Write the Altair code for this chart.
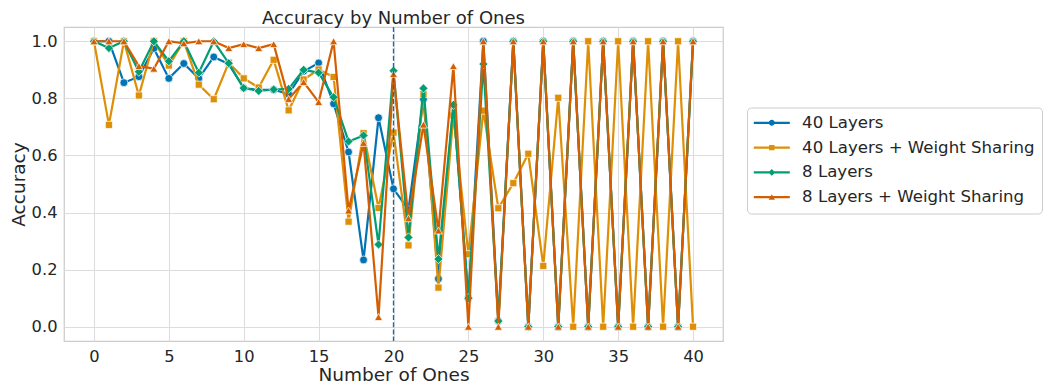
import altair as alt
import pandas as pd

# ---------------- data ----------------
x_vals = list(range(41))
series_names = ["40 Layers", "40 Layers + Weight Sharing", "8 Layers", "8 Layers + Weight Sharing"]

acc_40 = [1.0, 1.0, 0.855, 0.876, 0.975, 0.870, 0.922, 0.870, 0.945, 0.920,
          0.836, 0.830, 0.830, 0.815, 0.895, 0.924, 0.781, 0.612, 0.234, 0.732,
          0.483, 0.410, 0.798, 0.168, 0.777, 0.100, 1.0, 0.020, 1.0, 0.0,
          1.0, 0.0, 1.0, 0.0, 1.0, 0.0, 1.0, 0.0, 1.0, 0.0, 1.0]
acc_40_ws = [1.0, 0.707, 1.0, 0.810, 1.0, 0.915, 1.0, 0.848, 0.797, 0.925,
             0.870, 0.838, 0.935, 0.758, 0.866, 0.901, 0.875, 0.368, 0.678, 0.416,
             0.680, 0.285, 0.815, 0.137, 0.740, 0.254, 0.757, 0.415, 0.503, 0.606,
             0.213, 0.802, 0.0, 1.0, 0.0, 1.0, 0.0, 1.0, 0.0, 1.0, 0.0]
acc_8 = [1.0, 0.976, 1.0, 0.893, 1.0, 0.930, 1.0, 0.890, 1.0, 0.923,
         0.836, 0.826, 0.831, 0.833, 0.900, 0.890, 0.804, 0.649, 0.670, 0.288,
         0.897, 0.313, 0.835, 0.237, 0.777, 0.100, 0.920, 0.020, 1.0, 0.0,
         1.0, 0.0, 1.0, 0.0, 1.0, 0.0, 1.0, 0.0, 1.0, 0.0, 1.0]
acc_8_ws = [1.0, 1.0, 1.0, 0.913, 0.904, 1.0, 0.993, 1.0, 1.0, 0.976,
            0.990, 0.976, 0.990, 0.798, 0.857, 0.787, 1.0, 0.407, 0.644, 0.034,
            0.885, 0.380, 0.708, 0.337, 0.913, 0.0, 1.0, 0.0, 1.0, 0.0,
            1.0, 0.0, 1.0, 0.0, 1.0, 0.0, 1.0, 0.0, 1.0, 0.0, 1.0]

series_colors = ["#0173b2", "#de8f05", "#029e73", "#d55e00"]
marker_shapes = ["circle", "square", "diamond", "triangle-up"]
marker_sizes = [62, 50, 82, 64]

# legend symbols: a short line with the marker in its middle
legend_line = "M-1.7,-0.22H5.5V0.22H-1.7Z"
legend_paths = [
    legend_line + "M2.5,0A0.6,0.6 0 1,1 1.3,0A0.6,0.6 0 1,1 2.5,0Z",
    legend_line + "M1.36,-0.54H2.44V0.54H1.36Z",
    legend_line + "M1.9,-0.68L2.58,0L1.9,0.68L1.22,0Z",
    legend_line + "M1.9,-0.6L2.52,0.5L1.28,0.5Z",
]

x_ticks = [0, 5, 10, 15, 20, 25, 30, 35, 40]
y_ticks = [0.0, 0.2, 0.4, 0.6, 0.8, 1.0]
vline_x = [20]

all_series = [acc_40, acc_40_ws, acc_8, acc_8_ws]
rows = []
for name, vals in zip(series_names, all_series):
    for xv, yv in zip(x_vals, vals):
        rows.append({"ones": xv, "acc": yv, "series": name})
df = pd.DataFrame(rows)
vline_df = pd.DataFrame({"ones": vline_x})

TEXT = "#262626"
FONT = "DejaVu Sans"

x_scale = alt.Scale(domain=[-2, 42], nice=False, zero=False)
y_scale = alt.Scale(domain=[-0.05, 1.05], nice=False, zero=False)
x_axis = alt.Axis(values=x_ticks, title="Number of Ones", format="d")
x_enc = alt.X("ones:Q", scale=x_scale, axis=x_axis)
y_enc = alt.Y("acc:Q", scale=y_scale,
              axis=alt.Axis(values=y_ticks, title="Accuracy", format=".1f"))

layers = []
for name, col, shp, sz in zip(series_names, series_colors, marker_shapes, marker_sizes):
    base = alt.Chart(df).transform_filter(alt.datum.series == name)
    layers.append(base.mark_line(color=col, strokeWidth=2.2).encode(x=x_enc, y=y_enc))
    layers.append(base.mark_point(filled=True, shape=shp, size=sz, color=col, opacity=1,
                                  stroke="white", strokeWidth=0.7).encode(x=x_enc, y=y_enc))

legend_def = alt.Legend(
    title=None, orient="none", legendX=683, legendY=80.5,
    labelFontSize=16.6, labelFont=FONT, labelColor=TEXT, labelOffset=31.5, labelLimit=0,
    symbolSize=100, symbolStrokeWidth=0, symbolOpacity=1,
    rowPadding=7.8, padding=7, strokeColor="#cccccc", cornerRadius=4,
    fillColor="white",
)
legend_layer = alt.Chart(df).transform_filter("datum.acc > 5").mark_point(
    filled=True, opacity=1
).encode(
    x=x_enc, y=y_enc,
    color=alt.Color("series:N", scale=alt.Scale(domain=series_names, range=series_colors),
                    legend=legend_def),
    shape=alt.Shape("series:N", scale=alt.Scale(domain=series_names, range=legend_paths),
                    legend=legend_def),
)
layers.append(legend_layer)

rule = alt.Chart(vline_df).mark_rule(color="#0173b2", strokeDash=[5, 2.2], strokeWidth=1.3).encode(
    x=alt.X("ones:Q", scale=x_scale, axis=x_axis)
)
layers.append(rule)

chart = alt.layer(*layers).properties(
    width=659, height=314,
    title=alt.TitleParams("Accuracy by Number of Ones", fontSize=18, font=FONT,
                          fontWeight="normal", color=TEXT, offset=-2, anchor="middle"),
    autosize=alt.AutoSizeParams(type="none"),
    padding={"left": 56, "top": 19, "right": 322, "bottom": 43},
    background="white",
).configure_view(
    stroke="#cccccc", strokeWidth=1.25
).configure_axis(
    grid=True, gridColor="#dddddd", gridWidth=1.1, domain=False, ticks=False,
    labelFont=FONT, labelFontSize=16.3, labelColor=TEXT, labelPadding=7,
    titleFont=FONT, titleFontSize=18.5, titleFontWeight="normal", titleColor=TEXT,
).configure_axisY(titlePadding=3).configure_axisX(titlePadding=1)

chart.save("out.html", embed_options={"renderer": "svg", "actions": False})
